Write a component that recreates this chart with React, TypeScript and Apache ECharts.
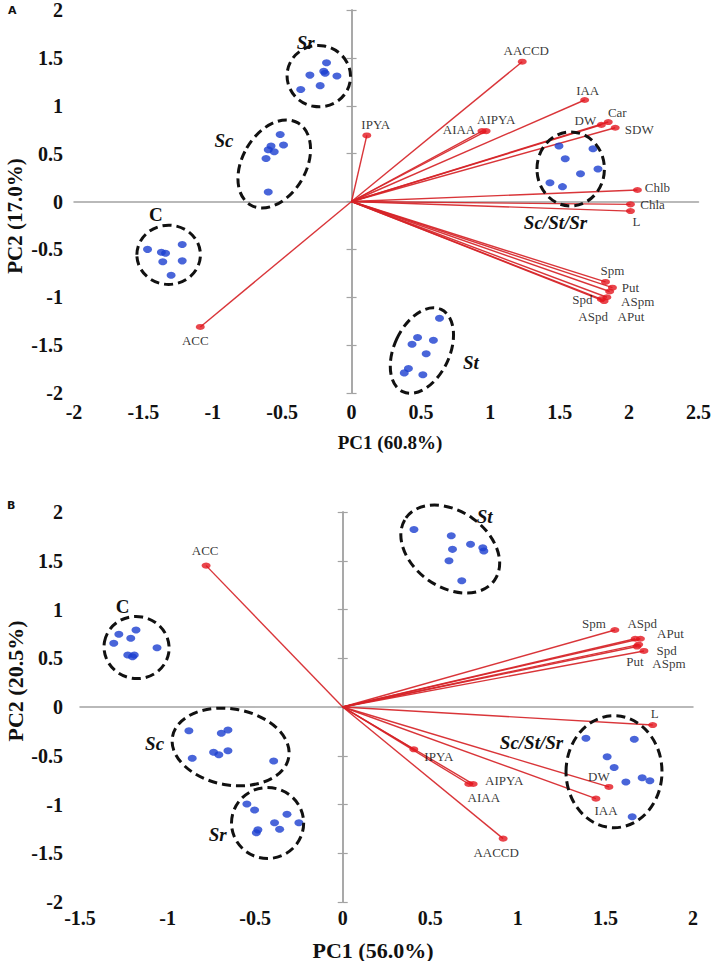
import React, { useEffect, useRef } from "react";
import * as echarts from "echarts";

const FONT = "'Liberation Serif', 'Times New Roman', serif";

// ---------- Panel A data ----------
const loadNamesA = ["AACCD", "IAA", "IPYA", "AIAA", "AIPYA", "DW", "Car", "SDW", "Chlb", "Chla", "L", "Spm", "Put", "ASpm", "APut", "Spd", "ASpd", "ACC"];
const loadPC1A = [1.23, 1.68, 0.11, 0.94, 0.97, 1.8, 1.85, 1.9, 2.06, 2.01, 2.01, 1.83, 1.88, 1.86, 1.84, 1.8, 1.82, -1.09];
const loadPC2A = [1.46, 1.06, 0.69, 0.735, 0.735, 0.8, 0.83, 0.77, 0.12, -0.03, -0.1, -0.84, -0.9, -0.94, -1.0, -1.02, -1.04, -1.31];

const scoresCA_x = [-1.47, -1.37, -1.34, -1.22, -1.36, -1.22, -1.3];
const scoresCA_y = [-0.5, -0.53, -0.54, -0.45, -0.63, -0.62, -0.77];
const scoresScA_x = [-0.514, -0.58, -0.49, -0.6, -0.557, -0.616, -0.6];
const scoresScA_y = [0.7, 0.58, 0.59, 0.54, 0.52, 0.45, 0.1];
const scoresSrA_x = [-0.366, -0.3, -0.226, -0.2, -0.19, -0.18, -0.105];
const scoresSrA_y = [1.17, 1.32, 1.21, 1.36, 1.34, 1.45, 1.31];
const scoresStA_x = [0.634, 0.476, 0.436, 0.59, 0.538, 0.41, 0.38, 0.514];
const scoresStA_y = [-1.22, -1.42, -1.49, -1.45, -1.59, -1.745, -1.79, -1.81];
const scoresMixA_x = [1.495, 1.74, 1.54, 1.65, 1.776, 1.43, 1.52];
const scoresMixA_y = [0.58, 0.55, 0.446, 0.29, 0.34, 0.196, 0.155];

const clusterNamesA = ["Sr", "Sc", "C", "St", "Sc/St/Sr"];
const clusterLabelXA = [-0.33, -0.92, -1.41, 0.86, 1.47];
const clusterLabelYA = [1.66, 0.64, -0.14, -1.68, -0.22];
const ellCxA = [-0.236, -0.557, -1.318, 0.507, 1.579];
const ellCyA = [1.309, 0.392, -0.557, -1.557, 0.34];
const ellRxA = [0.229, 0.229, 0.229, 0.2, 0.243];
const ellRyA = [0.32, 0.495, 0.309, 0.474, 0.387];
const ellRotA = [-10, -30, 0, -25, 0];

// ---------- Panel B data ----------
const loadNamesB = ["ACC", "Spm", "ASpd", "APut", "Spd", "ASpm", "Put", "L", "IPYA", "AIPYA", "AIAA", "DW", "IAA", "AACCD"];
const loadPC1B = [-0.78, 1.554, 1.67, 1.7, 1.69, 1.72, 1.68, 1.77, 0.406, 0.745, 0.72, 1.52, 1.446, 0.916];
const loadPC2B = [1.45, 0.79, 0.7, 0.7, 0.64, 0.575, 0.62, -0.185, -0.434, -0.79, -0.79, -0.82, -0.94, -1.35];

const scoresCB_x = [-1.278, -1.18, -1.21, -1.307, -1.06, -1.227, -1.2, -1.19];
const scoresCB_y = [0.746, 0.79, 0.705, 0.653, 0.608, 0.533, 0.516, 0.533];
const scoresScB_x = [-0.878, -0.693, -0.655, -0.859, -0.737, -0.707, -0.655, -0.394];
const scoresScB_y = [-0.243, -0.27, -0.236, -0.526, -0.465, -0.49, -0.448, -0.554];
const scoresSrB_x = [-0.547, -0.503, -0.318, -0.389, -0.25, -0.484, -0.493, -0.36];
const scoresSrB_y = [-0.995, -1.056, -1.1, -1.187, -1.187, -1.26, -1.29, -1.254];
const scoresStB_x = [0.407, 0.62, 0.627, 0.73, 0.8, 0.806, 0.607, 0.68];
const scoresStB_y = [1.82, 1.757, 1.617, 1.67, 1.634, 1.6, 1.5, 1.295];
const scoresMixB_x = [1.389, 1.665, 1.51, 1.55, 1.617, 1.71, 1.754, 1.653];
const scoresMixB_y = [-0.32, -0.33, -0.51, -0.62, -0.77, -0.725, -0.756, -1.125];

const clusterNamesB = ["St", "C", "Sc", "Sr", "Sc/St/Sr"];
const clusterLabelXB = [0.81, -1.257, -1.074, -0.714, 1.078];
const clusterLabelYB = [1.95, 1.026, -0.37, -1.31, -0.366];
const ellCxB = [0.614, -1.177, -0.64, -0.429, 1.549];
const ellCyB = [1.62, 0.61, -0.41, -1.19, -0.664];
const ellRxB = [0.309, 0.186, 0.337, 0.206, 0.274];
const ellRyB = [0.39, 0.318, 0.39, 0.364, 0.574];
const ellRotB = [-35, -10, -10, 0, 0];

// label offsets (pixels) for loading labels
const labelOffsetA: Record<string, number[]> = {
  AACCD: [4, -11], IAA: [3, -10], IPYA: [9, -11], AIAA: [-23, -2], AIPYA: [10, -12],
  DW: [-16, -4], Car: [9, -10], SDW: [24, 2], Chlb: [20, -3], Chla: [22, 0], L: [6, 10],
  Spm: [7, -11], Put: [18, 0], ASpm: [28, 10], APut: [24, 19], Spd: [-19, 0], ASpd: [-11, 15], ACC: [-5, 14],
};
const labelOffsetB: Record<string, number[]> = {
  ACC: [-1, -15], Spm: [-21, -6], ASpd: [7, -15], APut: [30, -5], Spd: [28, 6], ASpm: [25, 13],
  Put: [-2, 15], L: [2, -12], IPYA: [25, 7], AIPYA: [31, -4], AIAA: [15, 13], DW: [-10, -10],
  IAA: [10, 12], AACCD: [-7, 14],
};

const RED = "#e3161f";
const RED_LINE = "rgba(214,36,40,0.92)";
const BLUE = "#1c3fd0";
const AXIS_GRAY = "#a3a3a3";

const zip = (xs: number[], ys: number[]) => xs.map((x, i) => [x, ys[i]]);

function buildAxes(gridIndex: number, xmin: number, xmax: number, ymin: number, ymax: number, yPadTop: number, yMargin: number, xMargin: number) {
  const labelStyle = { fontFamily: FONT, fontWeight: "bold" as const, fontSize: 20, color: "#111" };
  const xAxes = [
    {
      type: "value", gridIndex, min: xmin, max: xmax, interval: 0.5,
      axisLine: { show: false, onZero: false }, axisTick: { show: false }, splitLine: { show: false },
      axisLabel: { ...labelStyle, margin: xMargin, showMinLabel: true, showMaxLabel: true },
    },
    {
      type: "value", gridIndex, min: xmin, max: xmax, interval: 0.5,
      axisLine: { show: true, onZero: true, lineStyle: { color: AXIS_GRAY, width: 1.5 } },
      axisTick: { show: false }, splitLine: { show: false }, axisLabel: { show: false },
    },
  ];
  const yAxes = [
    {
      type: "value", gridIndex, min: ymin, max: ymax, interval: 0.5, position: "left",
      axisLine: { show: false, onZero: false }, axisTick: { show: false }, splitLine: { show: false },
      axisLabel: { ...labelStyle, margin: yMargin, padding: [yPadTop, 0, 0, 0], showMinLabel: true, showMaxLabel: true },
    },
    {
      type: "value", gridIndex, min: ymin, max: ymax, interval: 0.5, position: "left",
      axisLine: { show: true, onZero: true, lineStyle: { color: AXIS_GRAY, width: 1.5 } },
      axisTick: { show: true, length: 5, lineStyle: { color: AXIS_GRAY, width: 1.2 } },
      splitLine: { show: false }, axisLabel: { show: false },
    },
    {
      type: "value", gridIndex, min: ymin, max: ymax, interval: 0.5, position: "right",
      axisLine: { show: true, onZero: true, lineStyle: { color: AXIS_GRAY, width: 1.5 } },
      axisTick: { show: true, length: 5, lineStyle: { color: AXIS_GRAY, width: 1.2 } },
      splitLine: { show: false }, axisLabel: { show: false },
    },
  ];
  return { xAxes, yAxes };
}

function buildSeries(
  xi: number, yi: number,
  names: string[], pc1: number[], pc2: number[], offsets: Record<string, number[]>,
  scoreGroups: number[][][],
  ell: { cx: number[]; cy: number[]; rx: number[]; ry: number[]; rot: number[] },
  clusters: { names: string[]; x: number[]; y: number[] },
  labelSize: number
) {
  const series: any[] = [];
  series.push({
    type: "custom", xAxisIndex: xi, yAxisIndex: yi, z: 2, silent: true,
    data: pc1.map((v, i) => [v, pc2[i]]),
    renderItem: (_p: any, api: any) => {
      const o = api.coord([0, 0]);
      const p = api.coord([api.value(0), api.value(1)]);
      return { type: "line", shape: { x1: o[0], y1: o[1], x2: p[0], y2: p[1] }, style: { stroke: RED_LINE, lineWidth: 1.4 } };
    },
  });
  scoreGroups.forEach((g) => {
    series.push({
      type: "scatter", xAxisIndex: xi, yAxisIndex: yi, z: 3, silent: true,
      symbol: "circle", symbolSize: [9, 7], itemStyle: { color: BLUE },
      data: g,
    });
  });
  series.push({
    type: "custom", xAxisIndex: xi, yAxisIndex: yi, z: 4, silent: true,
    data: ell.cx.map((v, i) => [v, ell.cy[i], ell.rx[i], ell.ry[i], ell.rot[i]]),
    renderItem: (_p: any, api: any) => {
      const c = api.coord([api.value(0), api.value(1)]);
      const s = api.size([api.value(2), api.value(3)]);
      return {
        type: "ellipse", x: c[0], y: c[1], rotation: (api.value(4) * Math.PI) / 180,
        shape: { cx: 0, cy: 0, rx: s[0], ry: s[1] },
        style: { fill: "none", stroke: "#111", lineWidth: 3, lineDash: [9, 5] },
      };
    },
  });
  series.push({
    type: "custom", xAxisIndex: xi, yAxisIndex: yi, z: 5, silent: true,
    data: clusters.x.map((v, i) => [v, clusters.y[i]]),
    renderItem: (p: any, api: any) => {
      const c = api.coord([api.value(0), api.value(1)]);
      const name = clusters.names[p.dataIndex];
      return {
        type: "text", x: c[0], y: c[1],
        style: {
          text: name, fill: "#111", fontFamily: FONT, fontSize: 19, fontWeight: "bold",
          fontStyle: name === "C" ? "normal" : "italic", align: "center", verticalAlign: "middle",
        },
      };
    },
  });
  series.push({
    type: "scatter", xAxisIndex: xi, yAxisIndex: yi, z: 6, silent: true,
    symbol: "circle", symbolSize: [9, 6], itemStyle: { color: RED },
    label: { show: true, position: "inside", formatter: "{b}", color: "#000", fontFamily: FONT, fontSize: labelSize },
    data: names.map((n, i) => ({ name: n, value: [pc1[i], pc2[i]], label: { offset: offsets[n] || [0, 0] } })),
  });
  return series;
}

export default function App() {
  const ref = useRef<HTMLDivElement>(null);
  useEffect(() => {
    if (!ref.current) return;
    const chart = echarts.init(ref.current, undefined, { renderer: "svg" });
    const a = buildAxes(0, -2, 2.5, -2, 2, 22, 11, 9);
    const b = buildAxes(1, -1.5, 2, -2, 2, 8, 17, 6);
    const seriesA = buildSeries(0, 0, loadNamesA, loadPC1A, loadPC2A, labelOffsetA,
      [zip(scoresCA_x, scoresCA_y), zip(scoresScA_x, scoresScA_y), zip(scoresSrA_x, scoresSrA_y), zip(scoresStA_x, scoresStA_y), zip(scoresMixA_x, scoresMixA_y)],
      { cx: ellCxA, cy: ellCyA, rx: ellRxA, ry: ellRyA, rot: ellRotA },
      { names: clusterNamesA, x: clusterLabelXA, y: clusterLabelYA }, 13);
    const seriesB = buildSeries(2, 3, loadNamesB, loadPC1B, loadPC2B, labelOffsetB,
      [zip(scoresCB_x, scoresCB_y), zip(scoresScB_x, scoresScB_y), zip(scoresSrB_x, scoresSrB_y), zip(scoresStB_x, scoresStB_y), zip(scoresMixB_x, scoresMixB_y)],
      { cx: ellCxB, cy: ellCyB, rx: ellRxB, ry: ellRyB, rot: ellRotB },
      { names: clusterNamesB, x: clusterLabelXB, y: clusterLabelYB }, 13);

    const titleStyle = (size: number) => ({ fill: "#111", fontFamily: FONT, fontWeight: "bold", fontSize: size, align: "center", verticalAlign: "middle" });
    chart.setOption({
      animation: false,
      backgroundColor: "#ffffff",
      grid: [
        { left: 74, top: 5, width: 630, height: 388 },
        { left: 80, top: 512, width: 613, height: 390 },
      ],
      xAxis: [...a.xAxes, ...b.xAxes],
      yAxis: [...a.yAxes, ...b.yAxes],
      series: [...seriesA, ...seriesB],
      graphic: [
        { type: "text", x: 8, y: 10, style: { text: "A", fill: "#111", fontFamily: "'DejaVu Sans', sans-serif", fontWeight: "bold", fontSize: 11, align: "left", verticalAlign: "middle" } },
        { type: "text", x: 7, y: 505, style: { text: "B", fill: "#111", fontFamily: "'DejaVu Sans', sans-serif", fontWeight: "bold", fontSize: 11, align: "left", verticalAlign: "middle" } },
        { type: "text", x: 390, y: 442, style: { text: "PC1 (60.8%)", ...titleStyle(19) } },
        { type: "text", x: 15, y: 216, rotation: Math.PI / 2, style: { text: "PC2 (17.0%)", ...titleStyle(21) } },
        { type: "text", x: 373, y: 950, style: { text: "PC1 (56.0%)", ...titleStyle(22) } },
        { type: "text", x: 15, y: 681, rotation: Math.PI / 2, style: { text: "PC2 (20.5%)", ...titleStyle(22) } },
      ],
    });
    return () => chart.dispose();
  }, []);
  return <div ref={ref} style={{ position: "absolute", left: 0, top: 0, width: 714, height: 961 }} />;
}
